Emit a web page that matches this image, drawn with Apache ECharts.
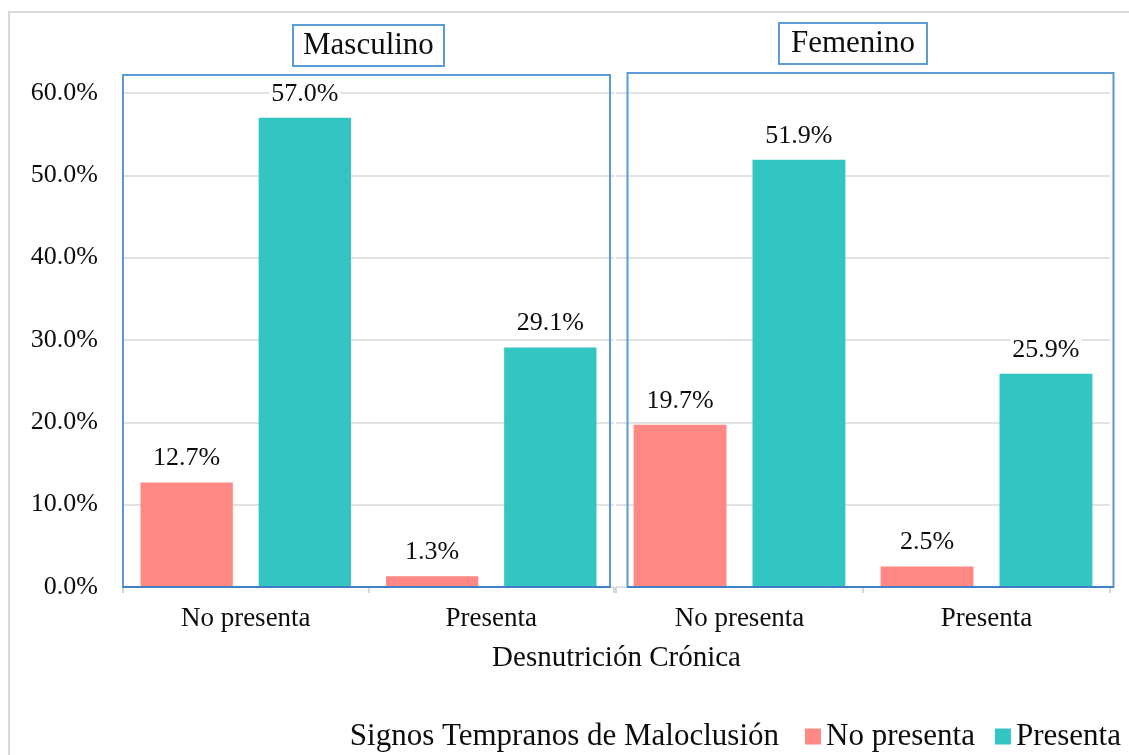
<!DOCTYPE html>
<html>
<head>
<meta charset="utf-8">
<script src="https://cdn.jsdelivr.net/npm/echarts@6/dist/echarts.min.js"></script>
<style>
  html, body { margin: 0; padding: 0; background: #ffffff; }
  #chart { width: 1129px; height: 755px; }
</style>
</head>
<body>
<div id="chart"></div>
<script>
// Categories of "Desnutrición Crónica" on the x axis of each panel
const categories = ['No presenta', 'Presenta'];
// Panels (sex)
const panels = ['Masculino', 'Femenino'];
// Legend groups: "Signos Tempranos de Maloclusión"
const seriesNames = ['No presenta', 'Presenta'];
// Percentages per panel and category
const masculinoNoPresenta = [12.7, 1.3];
const masculinoPresenta = [57.0, 29.1];
const femeninoNoPresenta = [19.7, 2.5];
const femeninoPresenta = [51.9, 25.9];
// Y axis range (percent)
const yMin = 0;
const yMax = 60;
const yStep = 10;

const FONT = "'Liberation Serif', 'Times New Roman', serif";
const TEXT = '#0d0d0d';
const RED = '#FF8884';
const TEAL = '#32C5C2';
const FRAME = '#5B9BD5';

const pct = v => Number(v).toFixed(1) + '%';

function yAxis(gridIndex, showLabels) {
  return {
    type: 'value', gridIndex: gridIndex,
    min: yMin, max: yMax, interval: yStep,
    axisLine: { show: false },
    axisTick: { show: false },
    axisLabel: {
      show: showLabels, formatter: pct, margin: 25,
      fontSize: 26, fontFamily: FONT, color: TEXT
    },
    splitLine: { lineStyle: { color: '#d9d9d9', width: 1.5 } }
  };
}

function xAxis(gridIndex) {
  return {
    type: 'category', gridIndex: gridIndex, data: categories,
    axisLine: { show: false },
    axisTick: { show: true, length: 6, lineStyle: { color: '#c8c8c8', width: 1.5 } },
    axisLabel: { margin: 18, fontSize: 27, fontFamily: FONT, color: TEXT }
  };
}

function bars(name, data, idx, color) {
  return {
    name: name, type: 'bar', data: data,
    xAxisIndex: idx, yAxisIndex: idx,
    barWidth: '37.6%', barGap: '28%',
    itemStyle: { color: color },
    label: {
      show: true, position: 'top', distance: 11,
      formatter: p => pct(p.value),
      fontSize: 26, fontFamily: FONT, color: TEXT,
      backgroundColor: '#ffffff', padding: [0, 2]
    }
  };
}

function titleBox(text, left, top, padX) {
  return {
    text: text, left: left, top: top,
    padding: [5, padX],
    borderColor: FRAME, borderWidth: 2,
    textStyle: { fontSize: 31, fontWeight: 'normal', fontFamily: FONT, color: TEXT }
  };
}

const chart = echarts.init(document.getElementById('chart'));

chart.setOption({
  backgroundColor: '#ffffff',
  animation: false,
  title: [
    titleBox(panels[0], 293, 25, 10),
    titleBox(panels[1], 779, 23, 12)
  ],
  grid: [
    { left: 123, width: 491, top: 93, bottom: 168 },
    { left: 616, width: 494, top: 93, bottom: 168 }
  ],
  xAxis: [xAxis(0), xAxis(1)],
  yAxis: [yAxis(0, true), yAxis(1, false)],
  legend: {
    data: seriesNames,
    left: 805, top: 721,
    padding: 0,
    icon: 'rect', itemWidth: 16, itemHeight: 16, itemGap: 20,
    textStyle: { fontSize: 31, fontFamily: FONT, color: TEXT }
  },
  series: [
    bars(seriesNames[0], masculinoNoPresenta, 0, RED),
    bars(seriesNames[1], masculinoPresenta, 0, TEAL),
    bars(seriesNames[0], femeninoNoPresenta, 1, RED),
    bars(seriesNames[1], femeninoPresenta, 1, TEAL)
  ],
  graphic: [
    // outer chart-area frame
    {
      type: 'rect', z: 0, silent: true,
      shape: { x: 9, y: 12, width: 1400, height: 900 },
      style: { fill: null, stroke: '#d9d9d9', lineWidth: 2 }
    },
    // panel frames
    {
      type: 'rect', z: 10, silent: true,
      shape: { x: 123, y: 75, width: 487, height: 512 },
      style: { fill: null, stroke: FRAME, lineWidth: 2 }
    },
    {
      type: 'rect', z: 10, silent: true,
      shape: { x: 627.5, y: 73, width: 486, height: 514 },
      style: { fill: null, stroke: FRAME, lineWidth: 2 }
    },
    // baseline under both panels
    {
      type: 'line', z: 11, silent: true,
      shape: { x1: 123, y1: 587, x2: 610, y2: 587 },
      style: { stroke: '#3F7FC4', lineWidth: 2 }
    },
    {
      type: 'line', z: 11, silent: true,
      shape: { x1: 627.5, y1: 587, x2: 1113.5, y2: 587 },
      style: { stroke: '#3F7FC4', lineWidth: 2 }
    },
    // shared x axis title
    {
      type: 'text', z: 12, silent: true,
      x: 616.5, y: 658,
      style: {
        text: 'Desnutrición Crónica', align: 'center', verticalAlign: 'middle',
        font: '29px ' + FONT, fill: TEXT
      }
    },
    // legend caption
    {
      type: 'text', z: 12, silent: true,
      x: 779, y: 737,
      style: {
        text: 'Signos Tempranos de Maloclusión', align: 'right', verticalAlign: 'middle',
        font: '31px ' + FONT, fill: TEXT
      }
    }
  ]
});
</script>
</body>
</html>
